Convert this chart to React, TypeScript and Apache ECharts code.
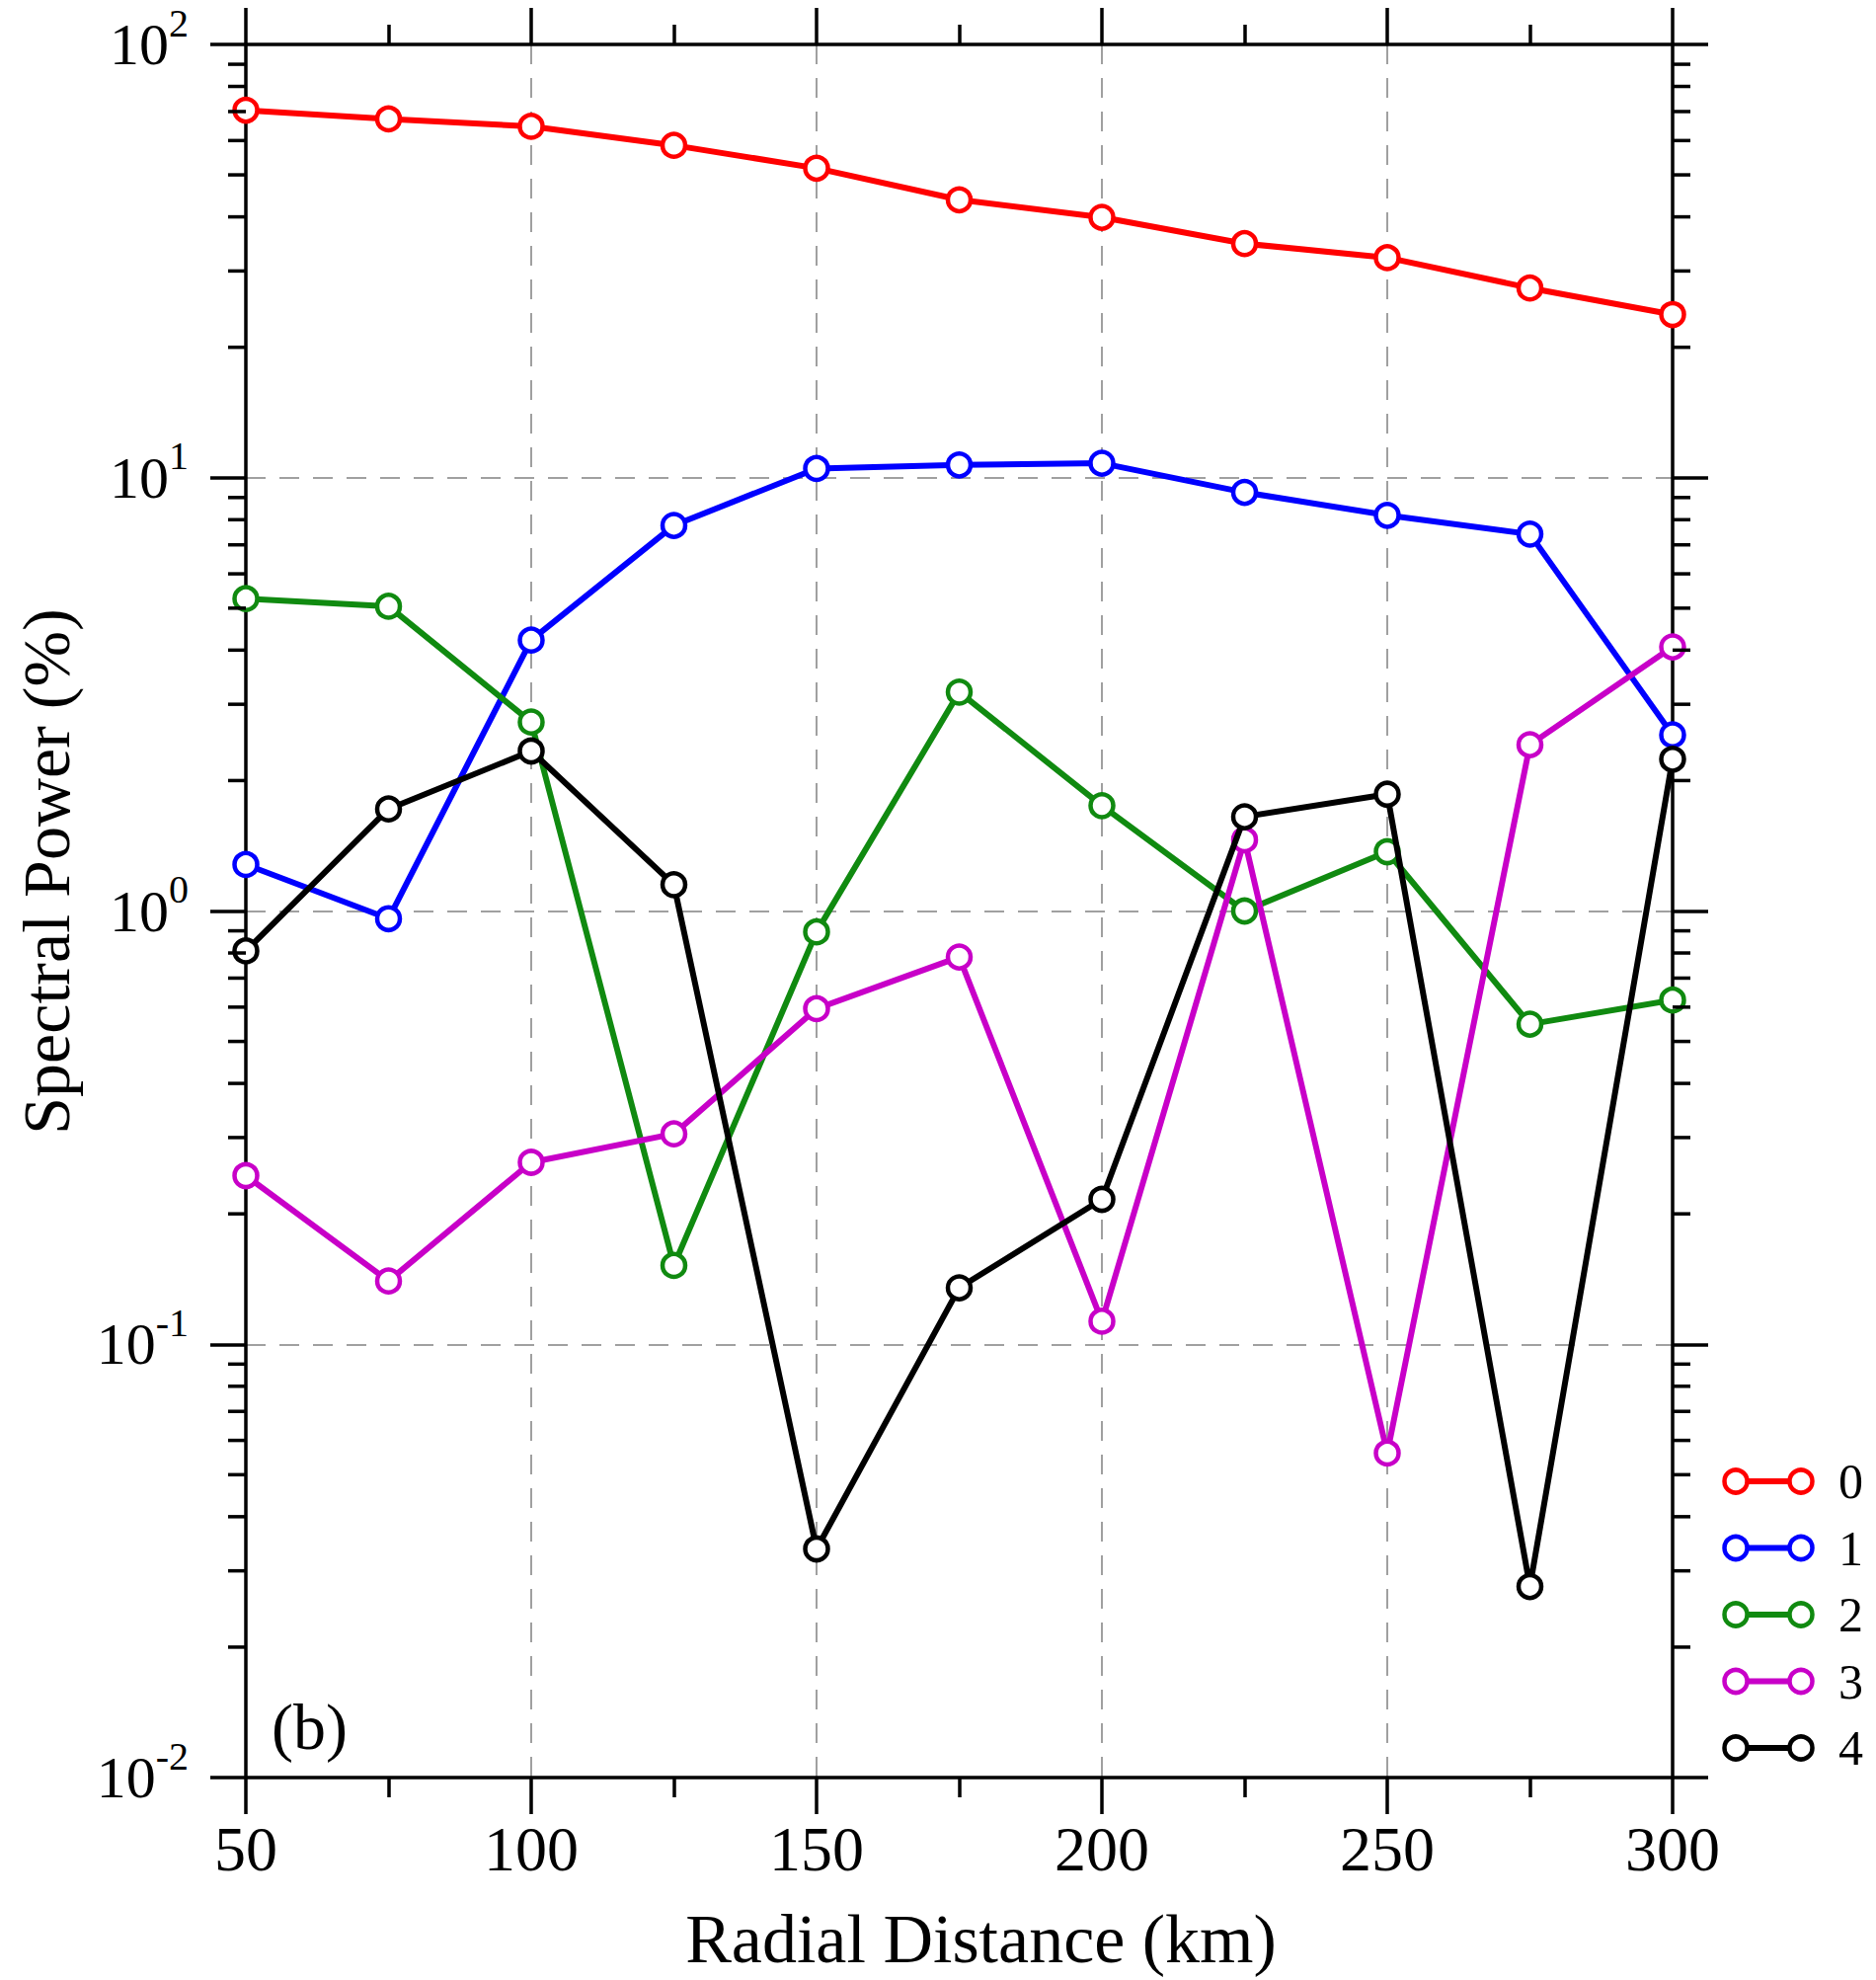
import React, { useEffect, useRef } from "react";
import * as echarts from "echarts";

const distances = [50, 75, 100, 125, 150, 175, 200, 225, 250, 275, 300];
const seriesNames = ["0", "1", "2", "3", "4"];
const wave0 = [70.5, 67.3, 64.7, 58.5, 51.8, 43.8, 39.9, 34.7, 32.2, 27.4, 23.8];
const wave1 = [1.28, 0.96, 4.22, 7.76, 10.5, 10.7, 10.8, 9.25, 8.19, 7.41, 2.55];
const wave2 = [5.26, 5.05, 2.73, 0.152, 0.895, 3.2, 1.75, 1.0, 1.37, 0.548, 0.623];
const wave3 = [0.245, 0.14, 0.263, 0.306, 0.595, 0.783, 0.113, 1.46, 0.0561, 2.42, 4.07];
const wave4 = [0.809, 1.72, 2.34, 1.15, 0.0337, 0.135, 0.216, 1.65, 1.86, 0.0276, 2.24];
const seriesColors = ["#ff0000", "#0000ff", "#108a10", "#c800c8", "#000000"];
const minorLogTicks = [
  0.02, 0.03, 0.04, 0.05, 0.06, 0.07, 0.08, 0.09,
  0.2, 0.3, 0.4, 0.5, 0.6, 0.7, 0.8, 0.9,
  2, 3, 4, 5, 6, 7, 8, 9,
  20, 30, 40, 50, 60, 70, 80, 90,
];
const xTitle = "Radial Distance (km)";
const yTitle = "Spectral Power (%)";
const panelLabel = "(b)";

const FONT = "'Liberation Serif', 'Times New Roman', serif";

export default function App() {
  const ref = useRef<HTMLDivElement>(null);
  useEffect(() => {
    if (!ref.current) return;
    const chart = echarts.init(ref.current, null, { renderer: "svg" });
    const allSeries = [wave0, wave1, wave2, wave3, wave4];

    const logLabel = (v: number) => {
      const e = Math.round(Math.log10(v));
      return `{b|10}{s|${e}}`;
    };

    const gridLeft = 249;
    const gridRight = 206;
    const gridTop = 45;
    const gridBottom = 205;

    const legendX1 = 1758;
    const legendX2 = 1824;
    const legendY0 = 1500;
    const legendDy = 67.5;

    const legendGraphics: any[] = seriesNames.map((name, i) => {
      const y = legendY0 + i * legendDy;
      const c = seriesColors[i];
      return {
        type: "group",
        children: [
          { type: "line", shape: { x1: legendX1, y1: y, x2: legendX2, y2: y }, style: { stroke: c, lineWidth: 6 } },
          { type: "circle", shape: { cx: legendX1, cy: y, r: 11.5 }, style: { fill: "#fff", stroke: c, lineWidth: 4.5 } },
          { type: "circle", shape: { cx: legendX2, cy: y, r: 11.5 }, style: { fill: "#fff", stroke: c, lineWidth: 4.5 } },
          {
            type: "text",
            x: 1862,
            y: y,
            style: { text: name, font: `50px ${FONT}`, fill: "#000", textVerticalAlign: "middle", verticalAlign: "middle" },
          },
        ],
      };
    });

    const tickStyle = { color: "#000", width: 3.5 };

    const option: any = {
      animation: false,
      backgroundColor: "#fff",
      title: {
        text: panelLabel,
        left: 270,
        top: 1710,
        textStyle: { fontFamily: FONT, fontSize: 66, fontWeight: "normal", color: "#000" },
      },
      grid: { left: gridLeft, right: gridRight, top: gridTop, bottom: gridBottom, containLabel: false },
      xAxis: [
        {
          type: "value",
          position: "bottom",
          min: 50,
          max: 300,
          interval: 50,
          name: xTitle,
          nameLocation: "middle",
          nameGap: 128,
          nameTextStyle: { fontFamily: FONT, fontSize: 70, color: "#000", padding: [0, 0, 0, 44] },
          axisLine: { show: true, onZero: false, lineStyle: tickStyle },
          axisTick: { show: true, inside: false, length: 37, lineStyle: tickStyle },
          minorTick: { show: true, splitNumber: 2, length: 20, lineStyle: tickStyle },
          axisLabel: { fontFamily: FONT, fontSize: 64, color: "#000", margin: 40 },
          splitLine: { show: true, lineStyle: { color: "#a0a0a0", width: 2, type: [20, 14] } },
          minorSplitLine: { show: false },
        },
        {
          type: "value",
          position: "top",
          min: 50,
          max: 300,
          interval: 50,
          axisLine: { show: true, onZero: false, lineStyle: tickStyle },
          axisTick: { show: true, inside: false, length: 37, lineStyle: tickStyle },
          minorTick: { show: true, splitNumber: 2, length: 20, lineStyle: tickStyle },
          axisLabel: { show: false },
          splitLine: { show: false },
        },
      ],
      yAxis: [
        {
          type: "log",
          logBase: 10,
          position: "left",
          min: 0.01,
          max: 100,
          name: yTitle,
          nameLocation: "middle",
          nameGap: 168,
          nameTextStyle: { fontFamily: FONT, fontSize: 68, color: "#000", padding: [0, 0, 0, 80] },
          axisLine: { show: true, onZero: false, lineStyle: tickStyle },
          axisTick: { show: true, inside: false, length: 36, lineStyle: tickStyle },
          axisLabel: {
            margin: 58,
            formatter: logLabel,
            rich: {
              b: { fontFamily: FONT, fontSize: 60, color: "#000" },
              s: { fontFamily: FONT, fontSize: 40, color: "#000", padding: [0, 0, 44, 0] },
            },
          },
          splitLine: { show: true, lineStyle: { color: "#a0a0a0", width: 2, type: [20, 14] } },
        },
        {
          type: "log",
          logBase: 10,
          position: "right",
          min: 0.01,
          max: 100,
          axisLine: { show: true, onZero: false, lineStyle: tickStyle },
          axisTick: { show: true, inside: false, length: 36, lineStyle: tickStyle },
          axisLabel: { show: false },
          splitLine: { show: false },
        },
      ],
      graphic: legendGraphics,
      series: [
        ...allSeries.map((vals, i) => ({
          name: seriesNames[i],
          type: "line",
          xAxisIndex: 0,
          yAxisIndex: 0,
          data: distances.map((d, j) => [d, vals[j]]),
          symbol: "circle",
          symbolSize: 23,
          showSymbol: true,
          clip: false,
          lineStyle: { color: seriesColors[i], width: 6 },
          itemStyle: { color: "#fff", borderColor: seriesColors[i], borderWidth: 4.5 },
          emphasis: { disabled: true },
          z: 3 + i,
        })),
        {
          type: "custom",
          name: "minorTicks",
          xAxisIndex: 0,
          yAxisIndex: 0,
          silent: true,
          clip: false,
          data: minorLogTicks.map((v) => [50, v]),
          renderItem: (params: any, api: any) => {
            const p = api.coord([50, api.value(1)]);
            const cs = params.coordSys;
            const st = { stroke: "#000", lineWidth: 3.5 };
            return {
              type: "group",
              children: [
                { type: "line", shape: { x1: cs.x - 18, y1: p[1], x2: cs.x, y2: p[1] }, style: st },
                { type: "line", shape: { x1: cs.x + cs.width, y1: p[1], x2: cs.x + cs.width + 18, y2: p[1] }, style: st },
              ],
            };
          },
          z: 10,
        },
      ],
    };
    chart.setOption(option);
    return () => chart.dispose();
  }, []);
  return (
    <div
      ref={ref}
      style={{ position: "absolute", left: 0, top: 0, width: 1900, height: 2005, background: "#fff" }}
    />
  );
}
